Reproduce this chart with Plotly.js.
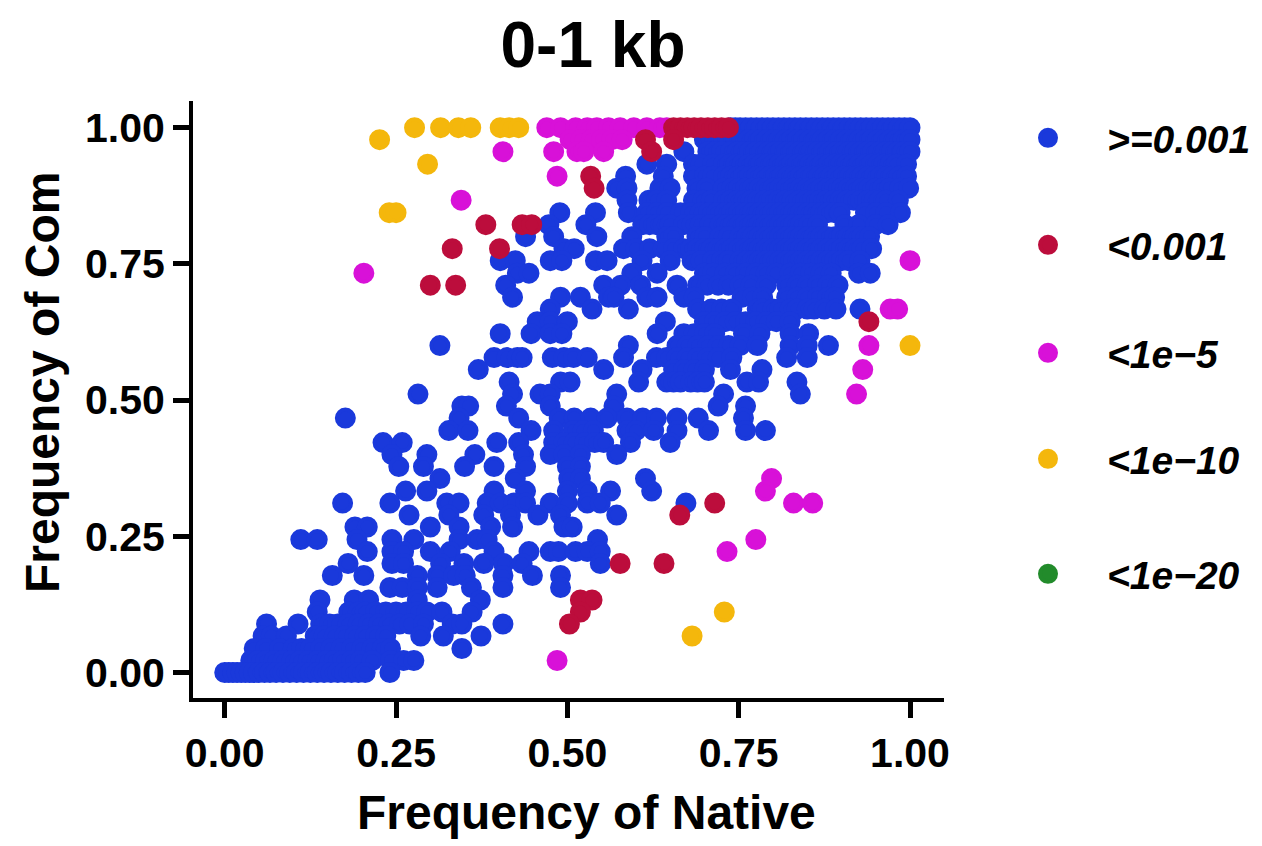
<!DOCTYPE html>
<html><head><meta charset="utf-8">
<script src="https://cdn.plot.ly/plotly-3.0.1.min.js"></script>
<style>html,body{margin:0;padding:0;background:#fff}</style></head>
<body><div id="chart" style="width:1262px;height:846px"></div>
<script>
const seriesNames = [">=0.001","<0.001","<1e\u22125","<1e\u221210","<1e\u221220"];
const seriesColors = ["#1a39db","#bc0d3c","#d811d8","#f4b70c","#228b2b"];
const tickValues = [0,0.25,0.5,0.75,1];
const tickLabels = ["0.00","0.25","0.50","0.75","1.00"];

// Each row: Frequency of Com, then the Frequency of Native values read at that height
const blueRows = [
[1.000,[.738,.745,.752,.76,.768,.776,.784,.792,.8,.808,.816,.824,.832,.84,.848,.856,.864,.872,.88,.888,.896,.904,.912,.92,.928,.936,.944,.952,.96,.968,.976,.984,.992,1]],
[.978,[.7,.71,.72,.728,.737,.746,.755,.764,.773,.782,.791,.8,.809,.818,.827,.836,.845,.854,.863,.872,.881,.89,.899,.908,.917,.926,.935,.944,.953,.962,.971,.98,.99,1]],
[.956,[.67,.705,.715,.725,.738,.748,.757,.766,.775,.784,.793,.802,.811,.82,.829,.838,.847,.856,.865,.874,.883,.892,.901,.91,.919,.928,.937,.946,.955,.964,.973,.982,.99,1]],
[.933,[.616,.645,.684,.695,.712,.728,.737,.746,.755,.764,.773,.782,.791,.8,.809,.818,.827,.836,.845,.854,.863,.872,.881,.89,.899,.908,.917,.926,.935,.944,.953,.962,.971,.98,.995]],
[.911,[.585,.64,.684,.7,.712,.728,.738,.748,.757,.766,.776,.786,.795,.804,.813,.822,.831,.84,.849,.858,.867,.876,.885,.894,.903,.912,.921,.93,.939,.948,.957,.966,.975,.984,.995]],
[.889,[.572,.587,.635,.65,.689,.703,.728,.74,.75,.76,.77,.78,.79,.8,.81,.82,.83,.84,.85,.86,.87,.88,.89,.9,.91,.92,.93,.94,.95,.96,.97,.985,.998]],
[.867,[.587,.619,.63,.645,.684,.698,.71,.728,.738,.748,.758,.768,.778,.788,.798,.808,.818,.828,.838,.848,.858,.868,.878,.888,.898,.908,.918,.928,.938,.948,.956,.965,.983]],
[.844,[.489,.541,.589,.616,.63,.645,.665,.68,.694,.706,.718,.73,.74,.75,.76,.77,.78,.79,.8,.81,.82,.83,.84,.85,.86,.87,.88,.89,.898,.935,.95,.965,.986]],
[.822,[.473,.527,.61,.62,.63,.64,.65,.67,.682,.694,.708,.723,.732,.742,.751,.76,.77,.78,.79,.8,.81,.82,.83,.84,.852,.865,.905,.925,.95,.968]],
[.800,[.439,.48,.543,.594,.645,.655,.689,.7,.723,.735,.752,.762,.77,.78,.79,.8,.81,.82,.83,.84,.85,.86,.87,.88,.89,.9,.91,.92,.93,.941]],
[.778,[.495,.51,.582,.6,.62,.64,.655,.67,.68,.69,.7,.71,.72,.73,.74,.75,.76,.77,.78,.79,.8,.81,.82,.83,.84,.85,.86,.87,.88,.89,.9,.91,.92,.93,.944]],
[.756,[.402,.424,.475,.492,.541,.558,.609,.65,.682,.695,.712,.725,.735,.752,.762,.77,.78,.79,.8,.81,.82,.83,.84,.85,.86,.87,.88,.89,.9,.91,.927]],
[.733,[.427,.444,.594,.631,.7,.712,.73,.745,.76,.775,.79,.805,.825,.84,.855,.87,.885,.925,.942]],
[.711,[.41,.553,.578,.607,.66,.69,.704,.72,.735,.752,.768,.79,.82,.835,.85,.865,.88,.895]],
[.689,[.42,.49,.519,.56,.568,.616,.631,.67,.685,.755,.77,.785,.82,.835,.85,.865,.88,.89]],
[.667,[.475,.536,.589,.69,.71,.725,.74,.777,.785,.8,.81,.825,.835,.85,.86,.875,.892,.927]],
[.644,[.456,.475,.5,.643,.7,.715,.73,.745,.76,.775,.79,.805,.825]],
[.622,[.402,.447,.475,.492,.631,.67,.685,.7,.715,.757,.781,.825,.852]],
[.600,[.314,.589,.66,.675,.69,.705,.72,.735,.752,.777,.825,.85,.881]],
[.578,[.393,.412,.427,.434,.478,.495,.509,.529,.582,.63,.645,.66,.675,.69,.705,.72,.74,.82,.85]],
[.556,[.37,.553,.609,.655,.67,.685,.7,.738,.784]],
[.533,[.415,.49,.504,.604,.645,.655,.665,.68,.69,.7,.762,.779,.835]],
[.511,[.282,.42,.46,.475,.572,.728,.84]],
[.489,[.346,.356,.411,.475,.568,.72,.76]],
[.467,[.176,.342,.429,.488,.51,.534,.558,.587,.61,.63,.66,.691,.757]],
[.444,[.327,.355,.447,.48,.509,.523,.538,.587,.6,.626,.66,.706,.76,.789]],
[.422,[.231,.259,.397,.429,.48,.495,.51,.525,.54,.553,.592,.65]],
[.400,[.244,.295,.365,.436,.475,.495,.519,.572]],
[.378,[.254,.29,.35,.393,.439,.5,.519]],
[.356,[.314,.424,.502,.519,.614]],
[.333,[.264,.295,.393,.439,.5,.529,.563,.623]],
[.311,[.172,.241,.324,.342,.383,.402,.422,.439,.475,.5,.529,.548,.673]],
[.289,[.269,.327,.378,.417,.457,.49,.572]],
[.267,[.19,.208,.3,.342,.388,.42,.495,.507]],
[.244,[.111,.135,.193,.244,.276,.342,.368,.383,.544]],
[.222,[.208,.244,.261,.3,.329,.393,.444,.475,.487,.512,.529,.548]],
[.200,[.18,.244,.261,.315,.349,.378,.407,.434,.548]],
[.178,[.157,.203,.281,.31,.334,.351,.406,.449,.49]],
[.156,[.241,.259,.281,.31,.36,.406,.49]],
[.133,[.139,.189,.21,.281,.373]],
[.111,[.135,.181,.195,.205,.22,.235,.25,.265,.28,.295,.317,.361]],
[.089,[.061,.107,.14,.153,.165,.18,.195,.21,.225,.24,.255,.27,.29,.332,.346,.406]],
[.067,[.056,.068,.09,.132,.145,.16,.175,.19,.205,.22,.235,.286,.319,.374]],
[.044,[.043,.06,.08,.1,.112,.125,.14,.155,.17,.185,.2,.215,.23,.242,.346]],
[.022,[.038,.048,.06,.072,.085,.098,.11,.122,.135,.148,.16,.172,.185,.198,.215,.242,.261,.276]],
[.000,[0,.006,.012,.018,.024,.03,.036,.042,.05,.058,.066,.075,.085,.095,.105,.115,.125,.135,.145,.155,.165,.175,.185,.195,.205,.241]]
];
const redNative = [.655,.665,.675,.685,.695,.705,.715,.725,.735,.614,.655,.623,.534,.539,.381,.434,.448,.401,.332,.3,.337,.94,.715,.664,.577,.641,.519,.536,.519,.503];
const redCom    = [1,1,1,1,1,1,1,1,1,.978,.978,.956,.911,.889,.822,.822,.822,.778,.778,.711,.711,.644,.311,.289,.2,.2,.133,.133,.111,.089];
const magentaNative = [.47,.49,.512,.529,.543,.56,.577,.597,.616,.635,.645,.504,.52,.535,.55,.565,.58,.514,.524,.553,.406,.48,.485,.345,.203,1,.971,.982,.94,.931,.922,.798,.789,.83,.858,.775,.733,.485];
const magentaCom    = [1,1,1,1,1,1,1,1,1,1,1,.978,.978,.978,.978,.978,.978,.956,.956,.956,.956,.956,.911,.867,.733,.756,.667,.667,.6,.556,.511,.356,.333,.311,.311,.244,.222,.022];
const yellowNative = [.277,.315,.341,.359,.402,.415,.429,.226,.296,.24,.25,1,.729,.682];
const yellowCom    = [1,1,1,1,1,1,1,.978,.933,.844,.844,.6,.111,.067];
const greenNative = [null];
const greenCom = [null];

const blueNative = blueRows.flatMap(r => r[1]);
const blueCom = blueRows.flatMap(r => r[1].map(() => r[0]));

const FONT = "Liberation Sans, Arial, sans-serif";
const legendY = [138,245,353,459,574];
const mk = (i,x,y) => ({x,y,type:"scatter",mode:"markers",name:seriesNames[i],
  legend: i===0 ? "legend" : "legend"+(i+1),
  marker:{color:seriesColors[i],size:17,line:{width:4,color:seriesColors[i]}},hoverinfo:"x+y+name"});
const traces = [mk(0,blueNative,blueCom),mk(2,magentaNative,magentaCom),mk(3,yellowNative,yellowCom),mk(4,greenNative,greenCom),mk(1,redNative,redCom)];

const PL=193,PR=944,PT=101,PB=698;
const legendAt = py => ({x:(989-PL)/(PR-PL),y:(PB-py)/(PB-PT),xanchor:"left",yanchor:"middle",
  bgcolor:"rgba(0,0,0,0)",borderwidth:0,itemwidth:108,itemclick:false,itemdoubleclick:false,
  font:{family:FONT,size:39,weight:"bold",style:"italic",color:"#000"}});
const axisBase = {tickmode:"array",tickvals:tickValues,ticktext:tickLabels,showgrid:false,zeroline:false,
  showline:true,linecolor:"#000",linewidth:4,ticks:"outside",ticklen:16,tickwidth:5,tickcolor:"#000",
  tickfont:{family:FONT,size:41,weight:"bold",color:"#000"}};
const layout = {width:1262,height:846,paper_bgcolor:"#fff",plot_bgcolor:"#fff",showlegend:true,
  margin:{l:PL,r:1262-PR,t:PT,b:846-PB,autoexpand:false},
  title:{text:"<b>0-1 kb</b>",font:{family:FONT,size:64,color:"#000"},x:593/1262,xref:"container",xanchor:"center",y:1-45/846,yref:"container",yanchor:"middle"},
  xaxis:Object.assign({},axisBase,{range:[-.0463,1.0496]}),
  yaxis:Object.assign({},axisBase,{range:[-.0468,1.049]}),
  legend:legendAt(legendY[0]),legend2:legendAt(legendY[1]),legend3:legendAt(legendY[2]),legend4:legendAt(legendY[3]),legend5:legendAt(legendY[4]),
  annotations:[
   {text:"<b>Frequency of Native</b>",xref:"paper",yref:"paper",x:(586-PL)/(PR-PL),y:(PB-812)/(PB-PT),showarrow:false,xanchor:"center",yanchor:"middle",font:{family:FONT,size:48,color:"#000"}},
   {text:"<b>Frequency of Com</b>",xref:"paper",yref:"paper",x:(42-PL)/(PR-PL),y:(PB-383)/(PB-PT),showarrow:false,textangle:-90,xanchor:"center",yanchor:"middle",font:{family:FONT,size:48,color:"#000"}}
  ]};
Plotly.newPlot("chart",traces,layout,{displayModeBar:false});
</script></body></html>
